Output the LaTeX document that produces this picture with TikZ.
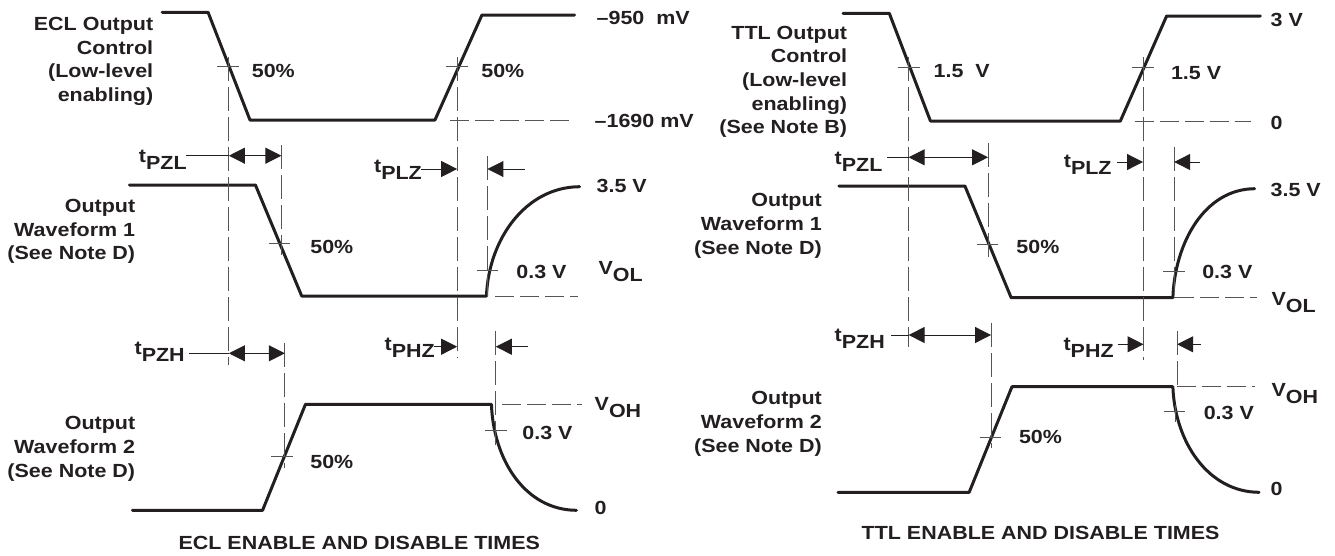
\documentclass[tikz,border=0pt]{standalone}
\usepackage{fontspec}
\setmainfont{Liberation Sans}[FakeStretch=1.13]
\usetikzlibrary{arrows.meta}
\definecolor{ink}{HTML}{231F20}
\definecolor{thin}{HTML}{555555}
\tikzset{
  wave/.style={line width=3pt,line join=round,line cap=round,color=ink},
  guide/.style={line width=1pt,color=thin,dash pattern=on 24pt off 6pt},
  guideh/.style={line width=1pt,color=thin,dash pattern=on 19pt off 6pt},
  tick/.style={line width=1pt,color=thin},
  lead/.style={line width=1pt,color=ink},
  tipl/.style={{Triangle[length=16pt,width=16pt]}-},
  tipr/.style={-{Triangle[length=16pt,width=16pt]}},
  tiplr/.style={{Triangle[length=16pt,width=16pt]}-{Triangle[length=16pt,width=16pt]}},
  lbl/.style={inner sep=0pt,color=ink,font=\fontsize{19}{23.7}\selectfont\bfseries},
  sublbl/.style={lbl,anchor=base west},
}
\newcommand{\tsub}[1]{t\raisebox{-7pt}{#1}}
\newcommand{\vsub}[1]{V\raisebox{-7pt}{#1}}
\begin{document}
\begin{tikzpicture}[x=1pt,y=-1pt]
    \useasboundingbox (0,0) rectangle (1335,555);
    %
    \begin{scope}[x=0.9908pt]
    % ECL panel, waveforms
    \draw[wave] (163.7,12.3) -- (210,12.3) -- (252.3,120) -- (439,120) -- (486.4,15) -- (580,15);
    \draw[wave] (130.6,185) -- (257.8,185) -- (304.5,296) -- (491,296) .. controls (493,240) and (530,187) .. (585,186.7);
    \draw[wave] (133.6,510.3) -- (265,510.3) -- (308.3,404.3) -- (496,404.3) .. controls (498,460) and (530,510) .. (581.8,510.3);
    %
    % ECL panel, dashed guides
    \foreach \x/\a/\b in {230.3/57/365, 461.4/57/358, 284/145/255, 492/156/296, 287/343/468, 500.4/331/448}
      \draw[guide] (\x,\a) -- (\x,\b);
    \foreach \y/\a/\b in {120/454/577, 296.7/500/583, 404.3/507/587}
      \draw[guideh] (\a,\y) -- (\b,\y);
    %
    % ECL panel, crossing marks
    \foreach \y/\a/\b in {66.7/219/241, 66.7/450/472, 243/271/293, 270/481/503, 456.7/274/296, 430/490/512}
      \draw[tick] (\a,\y) -- (\b,\y);
    %
    % ECL panel, labels
    \node[lbl,left,align=right] (eclctl) at (154.8,61.5) {ECL Output\\Control\\(Low-level\\enabling)};
    \node[lbl,left,align=right] (eclone) at (136.6,231.5) {Output\\Waveform 1\\(See Note D)};
    \node[lbl,left,align=right] (ecltwo) at (136.6,449) {Output\\Waveform 2\\(See Note D)};
    \node[lbl,right] at (254,71) {50\%};
    \node[lbl,right] at (485.6,71) {50\%};
    \node[lbl,right] at (313,247) {50\%};
    \node[lbl,right] at (313,462) {50\%};
    \node[lbl,right] at (521,272) {0.3 V};
    \node[lbl,right] at (527,433) {0.3 V};
    \node[lbl,right] at (602,17.5) {–950\ \ mV};
    \node[lbl,right] at (600,120.7) {–1690 mV};
    \node[lbl,right] at (602,185.7) {3.5 V};
    \node[sublbl] at (604,274.7) {\vsub{OL}};
    \node[sublbl] at (600,410.7) {\vsub{OH}};
    \node[lbl,right] at (600,507.7) {0};
    \node[lbl] (ecltitle) at (362.6,543.3) {ECL ENABLE AND DISABLE TIMES};
    %
    % ECL panel, timing arrows
    \node[sublbl] (tpzla) at (140,162.5) {\tsub{PZL}};
    \node[sublbl] (tplza) at (377.4,172.5) {\tsub{PLZ}};
    \node[sublbl] (tpzha) at (135.7,354) {\tsub{PZH}};
    \node[sublbl] (tphza) at (388,350.8) {\tsub{PHZ}};
    \draw[lead] (187.5,155.7) -- (231,155.7);
    \draw[lead,tiplr] (231,155.7) -- (284,155.7);
    \draw[lead,tipr] (425,169) -- (461.4,169);
    \draw[lead,tipl] (492,169) -- (530,169);
    \draw[lead] (191,353.3) -- (231,353.3);
    \draw[lead,tiplr] (231,353.3) -- (287.5,353.3);
    \draw[lead,tipr] (437.6,346.7) -- (461.4,346.7);
    \draw[lead,tipl] (500.4,346.7) -- (533,346.7);
    \end{scope}
    %
    \begin{scope}[x=0.9908pt,xshift=6.2pt]
    % TTL panel, waveforms
    \draw[wave] (844.6,13.3) -- (891.3,13.3) -- (932.8,121) -- (1124.5,121) -- (1171.2,16) -- (1265.8,16);
    \draw[wave] (840.4,186) -- (967.6,186) -- (1014.3,297.7) -- (1177.5,297.7) .. controls (1179.5,242) and (1210,189) .. (1260,188.7);
    \draw[wave] (839.5,492.3) -- (971.9,492.3) -- (1015.1,386.7) -- (1177.5,386.7) .. controls (1179.5,442) and (1213,492) .. (1264.5,492.3);
    %
    % TTL panel, dashed guides
    \foreach \x/\a/\b in {910.8/57/346.7, 1147.4/57/360, 991/143/257, 1178.8/146.7/297, 994/323.3/448.3, 1181.8/331/387}
      \draw[guide] (\x,\a) -- (\x,\b);
    \foreach \y/\a/\b in {121/1139/1256, 297.7/1179.7/1262, 386.7/1181.8/1260}
      \draw[guideh] (\a,\y) -- (\b,\y);
    \draw[tick] (1179.7,405) -- (1179.7,422);
    %
    % TTL panel, crossing marks
    \foreach \y/\a/\b in {67.7/900/922, 67.7/1136.4/1158.5, 244.3/979.5/1001.5, 271.7/1168/1190, 437.3/982.5/1004.5, 411.7/1169/1190}
      \draw[tick] (\a,\y) -- (\b,\y);
    %
    % TTL panel, labels
    \node[lbl,left,align=right] (ttlctl) at (848.9,81.8) {TTL Output\\Control\\(Low-level\\enabling)\\(See Note B)};
    \node[lbl,left,align=right] (ttlone) at (823.4,225.8) {Output\\Waveform 1\\(See Note D)};
    \node[lbl,left,align=right] (ttltwo) at (823.4,423.8) {Output\\Waveform 2\\(See Note D)};
    \node[lbl,right] at (935.8,70.7) {1.5\ \ V};
    \node[lbl,right] at (1175.4,72.7) {1.5 V};
    \node[lbl,right] at (1019.4,247.3) {50\%};
    \node[lbl,right] at (1022,436.7) {50\%};
    \node[lbl,right] at (1207,271.7) {0.3 V};
    \node[lbl,right] at (1208.5,413.3) {0.3 V};
    \node[lbl,right] at (1276,19.5) {3 V};
    \node[lbl,right] at (1276,122.7) {0};
    \node[lbl,right] at (1276,190) {3.5 V};
    \node[sublbl] at (1277,305.3) {\vsub{OL}};
    \node[sublbl] at (1277,396.3) {\vsub{OH}};
    \node[lbl,right] at (1276,489.3) {0};
    \node[lbl] (ttltitle) at (1044,533.3) {TTL ENABLE AND DISABLE TIMES};
    %
    % TTL panel, timing arrows
    \node[sublbl] (tpzlb) at (836,164) {\tsub{PZL}};
    \node[sublbl] (tplzb) at (1067.3,167.5) {\tsub{PLZ}};
    \node[sublbl] (tpzhb) at (836,341.5) {\tsub{PZH}};
    \node[sublbl] (tphzb) at (1067,350.8) {\tsub{PHZ}};
    \draw[lead] (889,157.3) -- (911,157.3);
    \draw[lead,tiplr] (910.8,157.3) -- (991,157.3);
    \draw[lead,tipr] (1121,162) -- (1147.4,162);
    \draw[lead,tipl] (1178.8,162) -- (1205,162);
    \draw[lead] (893.4,335) -- (910.8,335);
    \draw[lead,tiplr] (910.8,335) -- (994,335);
    \draw[lead,tipr] (1122,344.3) -- (1147.9,344.3);
    \draw[lead,tipl] (1181.8,344.3) -- (1206,344.3);
    \end{scope}
\end{tikzpicture}
\end{document}
